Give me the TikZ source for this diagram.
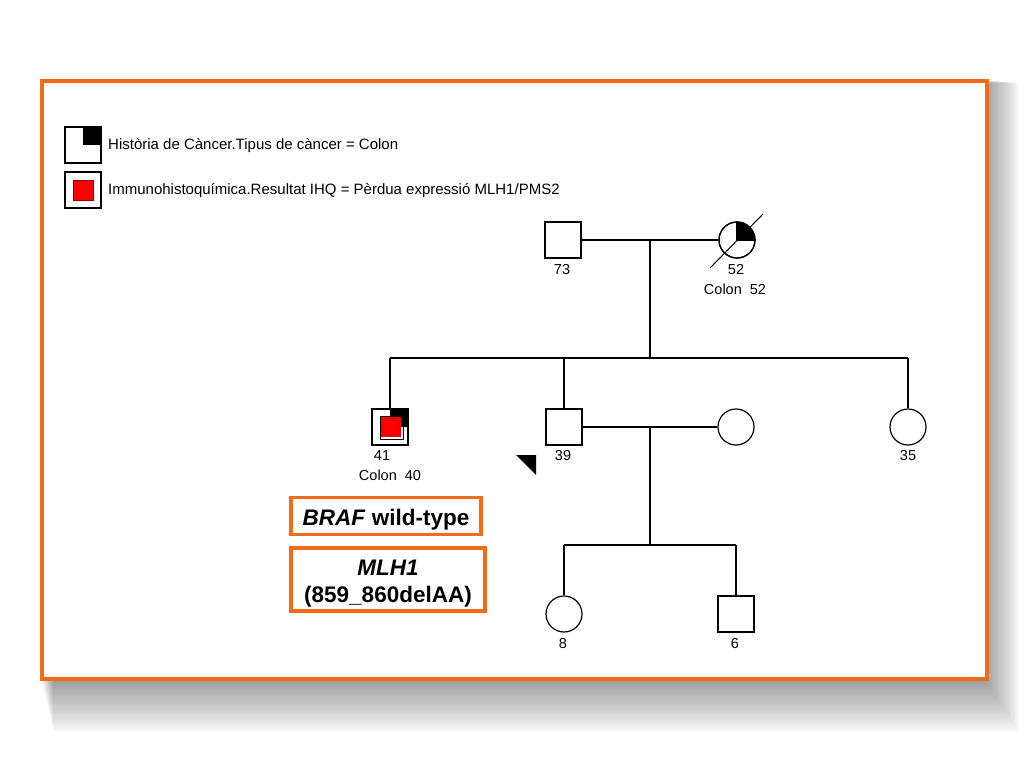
\documentclass[tikz,border=0pt]{standalone}
\usepackage{fontspec}
\setmainfont{Liberation Sans}
\definecolor{orangeF}{RGB}{241,107,27}
\begin{document}
\begin{tikzpicture}[x=1pt,y=-1pt,
  ped/.style={line width=1.2pt,black},
  male/.style={draw,line width=1.2pt,minimum size=36pt,inner sep=0pt,fill=white},
  female/.style={draw,circle,line width=1.2pt,minimum size=36pt,inner sep=0pt,fill=white},
  lbl/.style={font=\fontsize{14.5}{16}\selectfont,inner sep=0pt},
  leg/.style={font=\fontsize{15}{17}\selectfont,inner sep=0pt,anchor=west},
  obox/.style={draw=orangeF,line width=3.5pt,fill=white,inner sep=0pt,font=\fontsize{22.5}{27}\selectfont\bfseries,align=center},
  ]
\useasboundingbox (0,0) rectangle (1024,768);
% shadow
\foreach \i in {0,...,28} {
  \fill[black,opacity=0.017] (42+\i*0.4,80+\i*0.1) rectangle (986+\i*1.2,682+\i*1.8);
}
% frame
\draw[orangeF,line width=4pt,fill=white] (42,81) rectangle (987,679);

% legend
\node[male] (leg1) at (83,145) {};
\fill (leg1.north) rectangle (leg1.east);
\draw[line width=1.2pt] (leg1.north west) rectangle (leg1.south east);
\node[leg] (legt1) at (108,146) {Història de Càncer.Tipus de càncer = Colon};
\node[male] (leg2) at (83,190) {};
\node[draw=red!60!black,line width=0.5pt,fill=red,minimum size=20pt,inner sep=0pt] (leg2r) at (83,190) {};
\node[leg] (legt2) at (108,191) {Immunohistoquímica.Resultat IHQ = Pèrdua expressió MLH1/PMS2};

% generation I
\node[male] (m73) at (563,240) {};
\node[lbl] (l73) at (562,270) {73};
\node[female] (f52) at (737,240) {};
\begin{scope}
  \clip (f52.center) rectangle ++(20,-20);
  \fill (f52.center) circle[radius=18pt];
\end{scope}
\draw[ped] (f52.center) circle[radius=18pt];
\draw[ped] (f52.north) -- (f52.center) -- (f52.east);
\coordinate (sl1) at (710,268);
\coordinate (sl2) at (763,214);
\draw[line width=1pt] (sl1) -- (sl2);
\node[lbl] (l52) at (736,270) {52};
\node[lbl] (c52) at (735,289) {Colon\ \ 52};
\draw[ped] (m73.east) -- (f52.west);

% sibship
\coordinate (c1) at (650,240);
\coordinate (c2) at (650,358);
\coordinate (s41) at (390,358);
\coordinate (s39) at (564,358);
\coordinate (s35) at (908,358);
\draw[ped] (c1) -- (c2);
\draw[ped] (s41) -- (s35);

% generation II
\node[male] (m41) at (390,427) {};
\fill (m41.north) rectangle (m41.east);
\draw[line width=0.8pt] (380,416) rectangle (403,439);
\fill[red] (381,417) rectangle (401,437);
\draw[red!75!black,line width=0.4pt,fill=red] (391,427) circle[radius=9pt];
\draw[line width=1.2pt] (m41.north west) rectangle (m41.south east);
\node[lbl] (l41) at (382,456) {41};
\node[lbl] (c40) at (390,475) {Colon\ \ 40};
\draw[ped] (s41) -- (m41.north);

\node[male] (m39) at (564,427) {};
\node[lbl] (l39) at (563,456) {39};
\draw[ped] (s39) -- (m39.north);

\node[female] (f39) at (736,427) {};
\draw[ped] (m39.east) -- (f39.west);

\node[female] (f35) at (908,427) {};
\node[lbl] (l35) at (908,456) {35};
\draw[ped] (s35) -- (f35.north);

% proband arrow
\coordinate (p1) at (516,455);
\coordinate (p2) at (536,455);
\coordinate (p3) at (536,475);
\fill (p1) -- (p2) -- (p3) -- cycle;

% generation III
\coordinate (c3) at (650,427);
\coordinate (c4) at (650,545);
\coordinate (g8) at (564,545);
\coordinate (g6) at (736,545);
\draw[ped] (c3) -- (c4);
\draw[ped] (g8) -- (g6);
\node[female] (f8) at (564,614) {};
\node[lbl] (l8) at (563,643) {8};
\draw[ped] (g8) -- (f8.north);
\node[male] (m6) at (736,614) {};
\node[lbl] (l6) at (735,643) {6};
\draw[ped] (g6) -- (m6.north);

% orange boxes
\node[obox,minimum width=190pt,minimum height=37pt,text height=22pt,text depth=4pt] (braf) at (386,516) {\textit{BRAF} wild-type};
\node[obox,minimum width=194pt,minimum height=63pt] (mlh) at (388,579.5) {\rule{0pt}{24.5pt}\textit{MLH1}\\(859\_860delAA)};
\end{tikzpicture}
\end{document}
